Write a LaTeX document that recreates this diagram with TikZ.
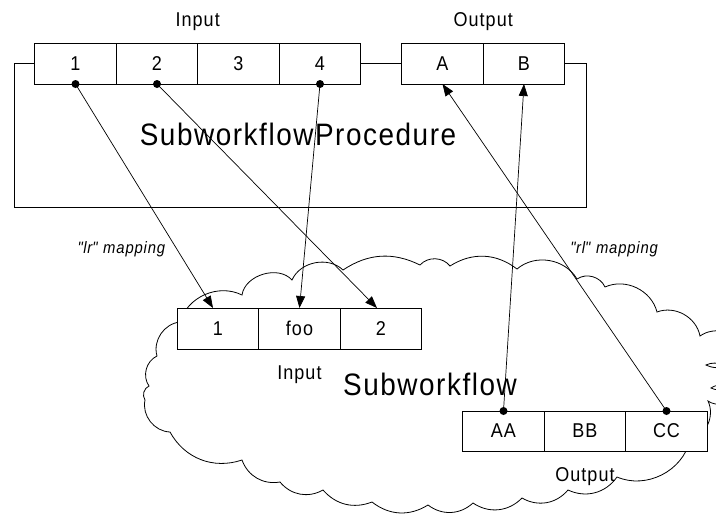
\documentclass[tikz,border=0pt]{standalone}
\usepackage{fontspec}
\setmainfont{Liberation Sans}[FakeStretch=0.9,LetterSpace=5]
\usetikzlibrary{arrows.meta,positioning}

\begin{document}
\begin{tikzpicture}[
    x = 1pt, y = -1pt, % one unit per point, y runs downwards
    > = {Triangle[length=12pt,width=9pt]}, % filled arrow heads
    line width = 0.7pt
    ]

    \tikzset{
    cell/.style = {draw, fill = white, line width = 1pt, outer sep = 0pt,
        minimum width = 81.5pt, minimum height = 41pt, inner sep = 0pt,
        font = \fontsize{20}{24}\selectfont},
    lbl/.style = {inner sep = 0pt, font = \fontsize{20}{24}\selectfont},
    bigtxt/.style = {inner sep = 0pt, font = \fontsize{31}{36}\selectfont},
    mapl/.style = {font = \fontsize{16.5}{20}\selectfont\itshape},
    frame/.style = {line width = 1pt},
    puff/.style = {line width = 0.8pt, bend left = 50}
    }

    \useasboundingbox (0,0) rectangle (716,515);

    % procedure frame
    \coordinate (procNW) at (14,63.5);
    \coordinate (procSE) at (586,207);
    \draw[frame] (35,63.5) -- (procNW) |- (procSE) |- (565,63.5);
    \draw[frame] (361,63.5) -- (402,63.5);

    % subworkflow cloud
    \draw[puff] (180,322) to (242,295) to[bend left=65] (292,280)
        to[bend left=55] (343,270) to[bend left=30] (420,265) to (450,266)
        to[bend left=35] (517,269) to (577,279) to (605,287) to (657,312)
        to (700,336) to (745,348) to (706,365) to (735,378) to (711,388)
        to (735,394) to (708,401) to (690,440) to (617,477)
        to[bend left=40] (568,490) to[bend left=40] (522,498)
        to[bend left=40] (473,503) to[bend left=40] (428,505)
        to[bend left=35] (372,502) to[bend left=35] (323,490)
        to[bend left=40] (280,482) to[bend left=40] (242,460)
        to[bend left=40] (170,432) to (145,400) to (149,386) to (157,356)
        to (180,322);

    % ports of the procedure
    \node[cell] (in1) at (75.5,63.5) {1};
    \node[cell] (in2) [right=0pt of in1] {2};
    \node[cell] (in3) [right=0pt of in2] {3};
    \node[cell] (in4) [right=0pt of in3] {4};
    \node[cell] (outA) at (442.5,63.5) {A};
    \node[cell] (outB) [right=0pt of outA] {B};
    \node[lbl] (inlbl) [above=12pt of in2.north east] {Input};
    \node[lbl] (outlbl) [above=12pt of outA.north east] {Output};

    % ports of the subworkflow
    \node[cell] (sin1) at (218,328.5) {1};
    \node[cell] (sfoo) [right=0pt of sin1] {foo};
    \node[cell] (sin2) [right=0pt of sfoo] {2};
    \node[cell, minimum height=40pt] (sAA) at (503.5,431) {AA};
    \node[cell, minimum height=40pt] (sBB) [right=0pt of sAA] {BB};
    \node[cell, minimum height=40pt] (sCC) [right=0pt of sBB] {CC};
    \node[lbl] (sinlbl) [below=16pt of sfoo] {Input};
    \node[lbl] (soutlbl) [below=16pt of sBB] {Output};

    \node[bigtxt] (proc) at (298,134) {SubworkflowProcedure};
    \node[bigtxt] (sub) at (430,384) {Subworkflow};

    % mappings
    \draw[->] (in1.south) -- ([xshift=-5pt]sin1.north)
        node[mapl, pos=0.737, left=8pt] {\textquotedbl lr\textquotedbl{} mapping};
    \draw[->] (in2.south) -- ([xshift=-4pt]sin2.north);
    \draw[->] (in4.south) -- (sfoo.north);
    \draw[->] (sAA.north) -- (outB.south);
    \draw[->] (sCC.north) -- (outA.south)
        node[mapl, pos=0.495, right=11pt] {\textquotedbl rl\textquotedbl{} mapping};

    \foreach \p in {in1,in2,in4} \fill (\p.south) circle (4pt);
    \foreach \p in {sAA,sCC} \fill (\p.north) circle (4pt);
\end{tikzpicture}
\end{document}
